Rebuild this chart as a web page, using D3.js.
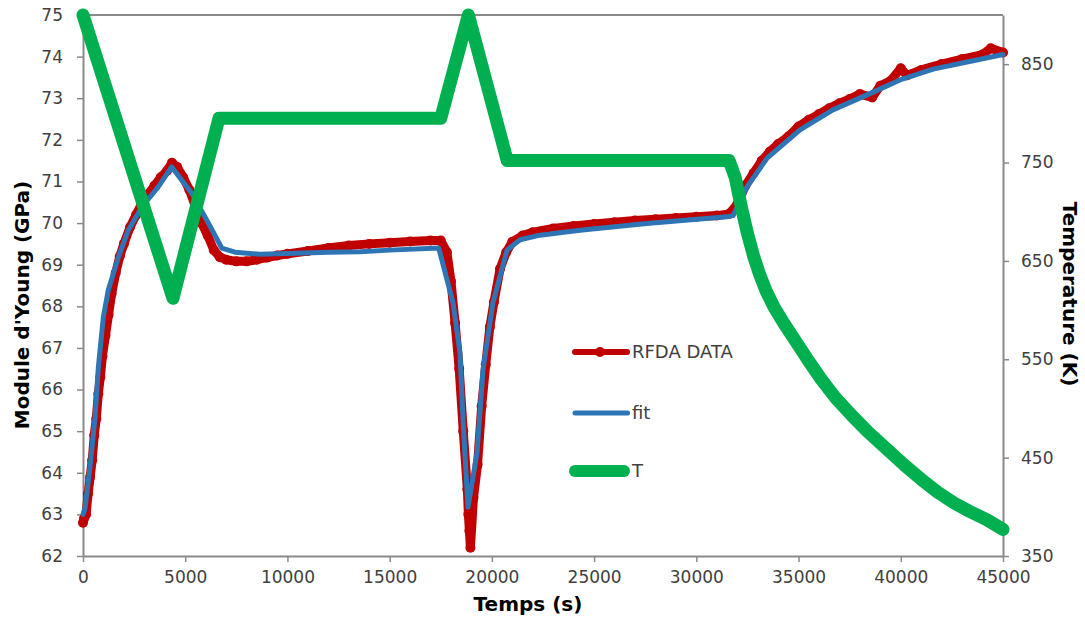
<!DOCTYPE html>
<html><head><meta charset="utf-8">
<script src="https://cdn.jsdelivr.net/npm/d3@7"></script>
<style>
body{margin:0;background:#fff}
text{font-family:"DejaVu Sans",sans-serif}
</style>
</head><body>
<svg id="chart" width="1085" height="621"></svg>
<script>
// ---- tick labels ----
const xTicks = [0,5000,10000,15000,20000,25000,30000,35000,40000,45000];
const leftTicks = [62,63,64,65,66,67,68,69,70,71,72,73,74,75];
const rightTicks = [350,450,550,650,750,850];

// ---- series: RFDA DATA (time s, modulus GPa) ----
const rfdaTime = [0,50,150,250,350,450,550,650,750,850,950,1100,1250,1400,1600,1800,2000,2300,2600,2900,3200,3500,3800,4100,4350,4600,4900,5200,5500,5800,6100,6400,6700,7000,7500,8000,8500,9000,9500,10000,11000,12000,13000,14000,15000,16000,17000,17500,17800,18000,18200,18400,18600,18800,18850,18900,18950,19100,19300,19500,19700,19900,20100,20400,20700,21000,21500,22000,23000,24000,25000,26000,27000,28000,29000,30000,31000,31600,32000,32400,32800,33200,33600,34000,34500,35000,35500,36000,36500,37000,37500,38000,38600,39000,39500,40000,40300,41000,42000,43000,44000,44400,45000];
const rfdaModulus = [62.8,62.9,63.0,63.5,63.9,64.3,64.9,65.3,65.9,66.3,66.8,67.3,67.8,68.3,68.8,69.2,69.5,69.9,70.2,70.5,70.7,70.9,71.1,71.25,71.45,71.35,71.1,70.8,70.4,70.0,69.7,69.35,69.18,69.12,69.08,69.08,69.12,69.17,69.22,69.26,69.33,69.4,69.46,69.5,69.53,69.56,69.58,69.58,69.3,68.6,67.6,66.5,65.0,63.6,63.0,62.6,62.2,63.4,64.2,65.6,66.6,67.5,68.1,68.9,69.3,69.55,69.7,69.78,69.87,69.93,69.98,70.02,70.06,70.09,70.12,70.15,70.18,70.22,70.45,70.9,71.2,71.5,71.72,71.9,72.08,72.32,72.48,72.62,72.76,72.88,72.98,73.1,73.02,73.3,73.42,73.72,73.55,73.68,73.82,73.94,74.05,74.2,74.1];

// ---- series: fit ----
const fitTime = [0,100,340,590,750,995,1240,1730,2215,2870,3680,4340,5315,6130,6785,7435,8660,10000,12000,13550,15000,17400,18100,18440,18590,18830,19270,19565,20050,20740,21375,22350,24310,27570,31490,31800,32480,33460,35070,36680,38350,39960,41580,43240,45000];
const fitModulus = [63.0,63.15,64.13,65.33,66.53,67.74,68.4,69.18,69.83,70.38,70.87,71.35,70.72,70.0,69.4,69.3,69.25,69.27,69.3,69.31,69.35,69.4,68.08,66.88,65.26,63.17,64.47,66.47,68.08,69.35,69.6,69.71,69.83,69.99,70.15,70.18,70.87,71.56,72.24,72.72,73.08,73.44,73.7,73.87,74.05];

// ---- series: T (time s, temperature K) ----
const tempTime = [0,4400,6650,17500,18850,20750,31600,31900,32200,32500,32800,33100,33400,33800,34300,34900,35500,36100,36800,37600,38400,39300,40200,41000,41800,42600,43400,44200,45000];
const tempValue = [900,612,795,795,900,752,752,735,705,678,655,636,620,603,586,567,548,530,511,493,476,459,442,428,415,404,395,387,377];

const svg = d3.select("#chart");
const L = 83, R = 1003, T = 15, B = 556;

const x = d3.scaleLinear().domain([0,45000]).range([L,R]);
const yL = d3.scaleLinear().domain([62,75]).range([B,T]);
const yR = d3.scaleLinear().domain([350,900]).range([B,T]);

const axisColor = "#8a8a8a";
function styleAxis(g){
  g.select(".domain").attr("stroke",axisColor).attr("stroke-width",2);
  g.selectAll(".tick line").attr("stroke",axisColor).attr("stroke-width",1.5);
  g.selectAll(".tick text").attr("fill","#404040").style("font-size","17px").style("font-family",'"DejaVu Sans",sans-serif');
}

// top border
svg.append("line").attr("x1",L).attr("x2",R).attr("y1",T).attr("y2",T)
  .attr("stroke",axisColor).attr("stroke-width",2);

svg.append("g").attr("transform",`translate(0,${B})`)
  .call(d3.axisBottom(x).tickValues(xTicks).tickFormat(d3.format("d")).tickSize(6).tickPadding(9).tickSizeOuter(0))
  .call(styleAxis);
svg.append("g").attr("transform",`translate(${L},0)`)
  .call(d3.axisLeft(yL).tickValues(leftTicks).tickSize(6).tickPadding(14).tickSizeOuter(0))
  .call(styleAxis);
svg.append("g").attr("transform",`translate(${R},0)`)
  .call(d3.axisRight(yR).tickValues(rightTicks).tickSize(6).tickPadding(12).tickSizeOuter(0))
  .call(styleAxis);

const red = "#c00000", blue = "#2e75b6", green = "#00b050";

const rfda = rfdaTime.map((t,i)=>[t,rfdaModulus[i]]);
const fit = fitTime.map((t,i)=>[t,fitModulus[i]]);
const temp = tempTime.map((t,i)=>[t,tempValue[i]]);

const lineL = d3.line().x(d=>x(d[0])).y(d=>yL(d[1]));
const lineR = d3.line().x(d=>x(d[0])).y(d=>yR(d[1]));

svg.append("path").datum(rfda).attr("d",lineL).attr("fill","none")
  .attr("stroke",red).attr("stroke-width",9).attr("stroke-linejoin","round").attr("stroke-linecap","round");
svg.append("g").selectAll("circle").data(rfda).join("circle")
  .attr("cx",d=>x(d[0])).attr("cy",d=>yL(d[1])).attr("r",5).attr("fill",red);
svg.append("path").datum(fit).attr("d",lineL).attr("fill","none")
  .attr("stroke",blue).attr("stroke-width",5).attr("stroke-linejoin","round").attr("stroke-linecap","round");
svg.append("path").datum(temp).attr("d",lineR).attr("fill","none")
  .attr("stroke",green).attr("stroke-width",13).attr("stroke-linejoin","round").attr("stroke-linecap","round");

// legend
const leg = svg.append("g");
const items = [
  {name:"RFDA DATA", color:red, w:6, marker:5, y:352},
  {name:"fit", color:blue, w:5, marker:0, y:413},
  {name:"T", color:green, w:12, marker:6, y:471}
];
items.forEach(it=>{
  leg.append("line").attr("x1",575).attr("x2",630 - it.w/2).attr("y1",it.y).attr("y2",it.y)
    .attr("stroke",it.color).attr("stroke-width",it.w).attr("stroke-linecap","round");
  if(it.marker) leg.append("circle").attr("cx",600).attr("cy",it.y).attr("r",it.marker).attr("fill",it.color);
  leg.append("text").attr("x",632).attr("y",it.y).attr("dy","0.36em")
    .attr("fill","#404040").style("font-size","18px").text(it.name);
});

// axis titles
svg.append("text").attr("transform","translate(29,305) rotate(-90)")
  .attr("text-anchor","middle").style("font-size","20px").style("font-weight","bold").attr("fill","#000")
  .text("Module d'Young (GPa)");
svg.append("text").attr("transform","translate(1063,294) rotate(90)")
  .attr("text-anchor","middle").style("font-size","20px").style("font-weight","bold").attr("fill","#000")
  .text("Temperature (K)");
svg.append("text").attr("x",528).attr("y",611)
  .attr("text-anchor","middle").style("font-size","20px").style("font-weight","bold").attr("fill","#000")
  .text("Temps (s)");
</script>
</body></html>
